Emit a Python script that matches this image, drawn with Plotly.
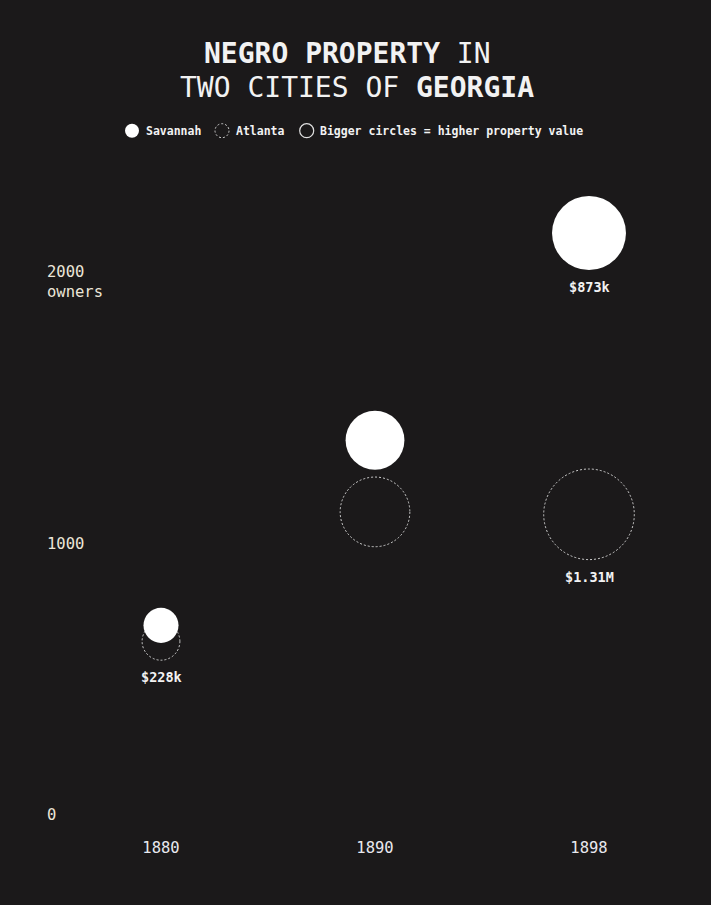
import plotly.graph_objects as go

# ---- data ----
years = ["1880", "1890", "1898"]
savannah_owners = [700, 1385, 2152]
atlanta_owners = [641, 1120, 1111]
savannah_value_k = [196, 552, 873]      # property value, thousands of dollars
atlanta_value_k = [228, 775, 1310]
value_labels = [  # (city, year index, text)
    ("Atlanta", 0, "$228k"),
    ("Savannah", 2, "$873k"),
    ("Atlanta", 2, "$1.31M"),
]
y_ticks = [0, 1000, 2000]
y_tick_text = ["0", "1000", "2000<br>owners"]

# ---- style ----
BG = "#1b191a"
FG = "#f2f2f2"
FONT = "DejaVu Sans Mono"
W, H = 711, 905
ML, MR, MT, MB = 54, 15, 170, 75
SIZEREF = 0.1596   # circle diameter (px) = sqrt(value / SIZEREF)
PW = W - ML - MR
PH = H - MT - MB


def diam(v):
    return (v / SIZEREF) ** 0.5


def px_x(px):
    return (px - ML) / PW


def px_y(py):
    return (H - MB - py) / PH


fig = go.Figure()

# Atlanta: dotted circles (pixel-sized shapes anchored at the data points)
shapes = []
for i, (o, v) in enumerate(zip(atlanta_owners, atlanta_value_k)):
    r = diam(v) / 2
    shapes.append(dict(
        type="circle", layer="below", xref="x", yref="y",
        xsizemode="pixel", ysizemode="pixel",
        xanchor=i, yanchor=o, x0=-r, x1=r, y0=-r, y1=r,
        line=dict(color="#cfcfcf", width=1, dash="2px,2px"),
        fillcolor="rgba(0,0,0,0)",
    ))

fig.add_trace(go.Scatter(
    x=years, y=atlanta_owners, mode="markers", name="Atlanta",
    marker=dict(size=atlanta_value_k, sizemode="area", sizeref=2 * SIZEREF,
                color="rgba(0,0,0,0)", opacity=1, line=dict(width=0)),
    hoverinfo="x+y", showlegend=False,
))

fig.add_trace(go.Scatter(
    x=years, y=savannah_owners, mode="markers", name="Savannah",
    marker=dict(size=savannah_value_k, sizemode="area", sizeref=2 * SIZEREF,
                color="#ffffff", opacity=1, line=dict(width=0)),
    hoverinfo="x+y", showlegend=False,
))

annotations = []

# value labels below circles
for city, i, txt in value_labels:
    if city == "Atlanta":
        yv, vv = atlanta_owners[i], atlanta_value_k[i]
    else:
        yv, vv = savannah_owners[i], savannah_value_k[i]
    annotations.append(dict(
        x=i, y=yv, xref="x", yref="y", text="<b>" + txt + "</b>",
        showarrow=False, yanchor="middle", xanchor="center",
        yshift=-(diam(vv) / 2 + 17),
        font=dict(family=FONT, size=13.5, color=FG),
    ))

# y tick labels (left aligned)
for t, txt in zip(y_ticks, y_tick_text):
    two = "<br>" in txt
    annotations.append(dict(
        x=px_x(45), y=t, xref="paper", yref="y", text=txt, align="left",
        showarrow=False, xanchor="left",
        yanchor="top" if two else "middle", yshift=13 if two else 0,
        font=dict(family=FONT, size=15.5, color="#ece6d8"),
    ))

# title (two lines)
annotations.append(dict(
    x=px_x(347), y=px_y(53), xref="paper", yref="paper",
    text="<b>NEGRO PROPERTY</b> IN", showarrow=False,
    xanchor="center", yanchor="middle",
    font=dict(family=FONT, size=28, color=FG),
))
annotations.append(dict(
    x=px_x(357), y=px_y(87), xref="paper", yref="paper",
    text="TWO CITIES OF <b>GEORGIA</b>", showarrow=False,
    xanchor="center", yanchor="middle",
    font=dict(family=FONT, size=28, color=FG),
))

# custom legend
leg_y = px_y(130.7)
legend_items = [
    (132, "filled", 144, "Savannah"),
    (222, "dotted", 233.5, "Atlanta"),
    (306.7, "open", 318, "Bigger circles = higher property value"),
]
for cx, kind, tx, label in legend_items:
    r = 7
    sh = dict(type="circle", xref="paper", yref="paper",
              xsizemode="pixel", ysizemode="pixel",
              xanchor=px_x(cx), yanchor=leg_y, x0=-r, x1=r, y0=-r, y1=r)
    if kind == "filled":
        sh.update(fillcolor="#ffffff", line=dict(width=0))
    elif kind == "dotted":
        sh.update(fillcolor="rgba(0,0,0,0)",
                  line=dict(color="#cfcfcf", width=1, dash="2px,2px"))
    else:
        sh.update(fillcolor="rgba(0,0,0,0)", line=dict(color="#e0e0e0", width=1.2))
    shapes.append(sh)
    annotations.append(dict(
        x=px_x(tx), y=leg_y, xref="paper", yref="paper", text="<b>" + label + "</b>",
        showarrow=False, xanchor="left", yanchor="middle",
        font=dict(family=FONT, size=11.5, color=FG),
    ))

fig.update_layout(
    width=W, height=H,
    margin=dict(l=ML, r=MR, t=MT, b=MB, pad=0),
    paper_bgcolor=BG, plot_bgcolor=BG,
    showlegend=False,
    shapes=shapes, annotations=annotations,
    font=dict(family=FONT, color=FG),
    xaxis=dict(type="category", categoryorder="array", categoryarray=years,
               range=[-0.5, 2.5], showgrid=False, zeroline=False, showline=False,
               ticks="", ticklabelstandoff=6,
               tickfont=dict(family=FONT, size=15.5, color="#e8e8ee")),
    yaxis=dict(range=[(814.5 - (H - MB)) / 0.2702, (814.5 - MT) / 0.2702],
               showgrid=False, zeroline=False, showline=False,
               showticklabels=False, ticks=""),
)

fig.write_html(
    "out.html",
    config={"displayModeBar": False},
    post_script="document.body.style.margin='0';"
                "document.body.style.background='" + BG + "';",
)
